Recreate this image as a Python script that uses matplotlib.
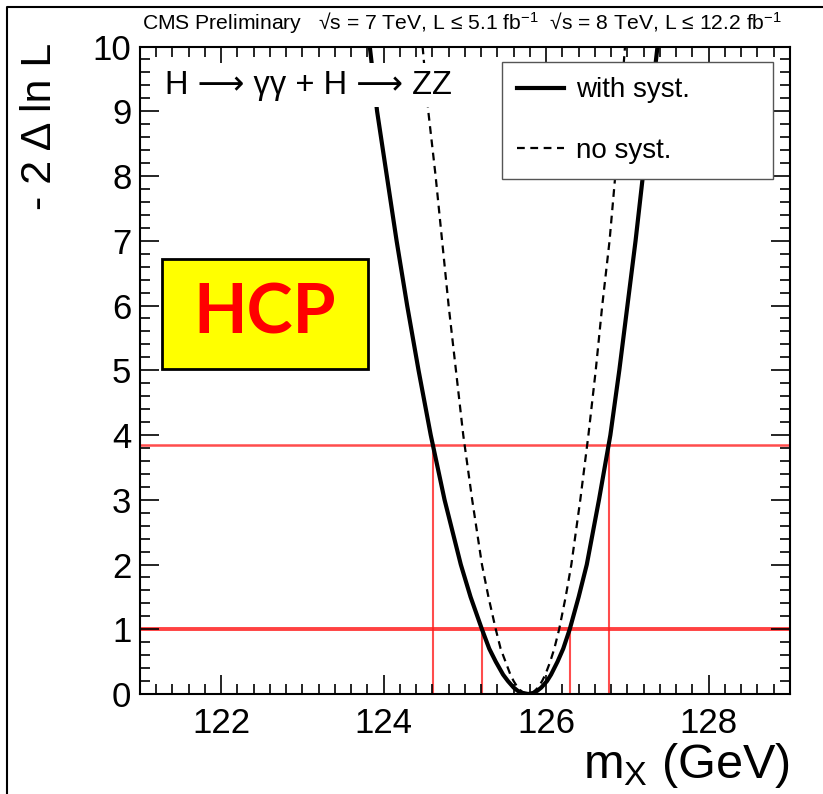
import numpy as np
import matplotlib
matplotlib.use("Agg")
import matplotlib.pyplot as plt
from matplotlib.lines import Line2D
from matplotlib.patches import Rectangle

plt.rcParams['font.family'] = ['Liberation Sans', 'DejaVu Sans']
plt.rcParams['mathtext.fontset'] = 'custom'
plt.rcParams['mathtext.rm'] = 'Liberation Sans'
plt.rcParams['mathtext.it'] = 'Liberation Sans:italic'

# -2 Delta lnL scan, with systematics
syst_mass = [123.83, 123.92, 124.04, 124.16, 124.29, 124.43, 124.58, 124.75, 124.95, 125.07,
             125.21, 125.30, 125.38, 125.47, 125.53, 125.60, 125.65, 125.70, 125.78, 125.85,
             125.89, 125.94, 126.01, 126.06, 126.14, 126.21, 126.29, 126.40, 126.50, 126.65,
             126.79, 126.90, 127.00, 127.10, 127.19, 127.28, 127.37]
syst_nll = [10, 9, 8, 7, 6, 5, 4, 3, 2, 1.5,
            1, 0.7, 0.5, 0.3, 0.2, 0.1, 0.05, 0.02, 0, 0.02,
            0.05, 0.1, 0.2, 0.3, 0.5, 0.7, 1, 1.5, 2, 3,
            4, 5, 6, 7, 8, 9, 10]

# stat only scan
nosyst_mass = [124.48, 124.55, 124.64, 124.72, 124.80, 124.89, 124.98, 125.09, 125.21, 125.29,
               125.38, 125.44, 125.50, 125.56, 125.60, 125.65, 125.69, 125.72, 125.78, 125.83,
               125.86, 125.90, 125.95, 125.99, 126.05, 126.10, 126.16, 126.24, 126.31, 126.42,
               126.52, 126.61, 126.69, 126.78, 126.85, 126.91, 126.97]
nosyst_nll = [10, 9, 8, 7, 6, 5, 4, 3, 2, 1.5,
              1, 0.7, 0.5, 0.3, 0.2, 0.1, 0.05, 0.02, 0, 0.02,
              0.05, 0.1, 0.2, 0.3, 0.5, 0.7, 1, 1.5, 2, 3,
              4, 5, 6, 7, 8, 9, 10]

levels = [1.0, 3.84]
interval_68 = [125.21, 126.29]
interval_95 = [124.61, 126.77]

fig = plt.figure(figsize=(8.23, 7.94), dpi=100)
ax = fig.add_axes([0.1698, 0.1259, 0.7901, 0.8155])

# red lines for the 68% / 95% intervals
red = '#ff2020'
ax.axhline(levels[0], color=red, lw=2.8, alpha=0.85, zorder=1)
ax.axhline(levels[1], color=red, lw=1.8, alpha=0.8, zorder=1)
for m in interval_68:
    ax.plot([m, m], [0, levels[0]], color=red, lw=1.5, alpha=0.8, zorder=1)
for m in interval_95:
    ax.plot([m, m], [0, levels[1]], color=red, lw=1.5, alpha=0.8, zorder=1)

ax.plot(syst_mass, syst_nll, color='black', lw=3.0, label='with syst.', zorder=3)
ax.plot(nosyst_mass, nosyst_nll, color='black', lw=1.6, dashes=(3.5, 2.5), label='no syst.', zorder=3)

ax.set_xlim(121, 129)
ax.set_ylim(0, 10)
ax.set_xticks([122, 124, 126, 128])
ax.set_xticks(np.arange(121, 129.01, 0.2), minor=True)
ax.set_yticks(range(0, 11))
ax.set_yticks(np.arange(0, 10.01, 0.2), minor=True)
ax.tick_params(which='both', direction='in', top=True, right=True, width=1.2, labelsize=25)
ax.tick_params(which='major', length=14)
ax.tick_params(which='minor', length=7)
ax.tick_params(axis='x', pad=9)
ax.tick_params(axis='y', pad=6)
for s in ax.spines.values():
    s.set_linewidth(1.5)

# legend
leg = ax.legend(loc='upper left', bbox_to_anchor=(0.557, 0.795, 0.417, 0.181), mode='expand',
                borderaxespad=0, fontsize=20, frameon=True, fancybox=False, framealpha=1,
                edgecolor='#555555', handlelength=1.7, handletextpad=0.4,
                labelspacing=1.25, borderpad=0.55)
leg.get_frame().set_linewidth(1.0)
leg.set_zorder(5)

ax.text(0.039, 0.9405, 'H ⟶ γγ + H ⟶ ZZ', transform=ax.transAxes,
        fontsize=23.5, va='center', ha='left', zorder=4,
        bbox=dict(facecolor='white', edgecolor='none', pad=5))

# HCP tag
ax.add_patch(Rectangle((0.0342, 0.502), 0.3168, 0.170, transform=ax.transAxes,
                       facecolor='#ffff00', edgecolor='black', lw=2.0, zorder=4))
ax.text(0.1926, 0.587, 'HCP', transform=ax.transAxes, color='red', fontsize=50,
        fontweight='bold', family=['Lato', 'DejaVu Sans'], ha='center', va='center', zorder=5)

fig.text(0.173, 1 - 23 / 794,
         'CMS Preliminary   √s = 7 TeV, L ≤ 5.1 fb$^{-1}$  √s = 8 TeV, L ≤ 12.2 fb$^{-1}$',
         fontsize=15.2, ha='left', va='center')
fig.text(40 / 823, 1 - 43 / 794, '- 2 Δ ln L', rotation=90, fontsize=31, ha='center', va='top')
fig.text(790 / 823, 1 - 765 / 794, 'm$_{\\mathrm{X}}$ (GeV)', fontsize=35, ha='right', va='center')

# frame line of the original picture (left + top)
fig.add_artist(Line2D([7 / 823, 7 / 823, 1], [0, 1 - 7 / 794, 1 - 7 / 794],
                      transform=fig.transFigure, color='black', lw=1.5))

fig.savefig('out.png', dpi=100)
